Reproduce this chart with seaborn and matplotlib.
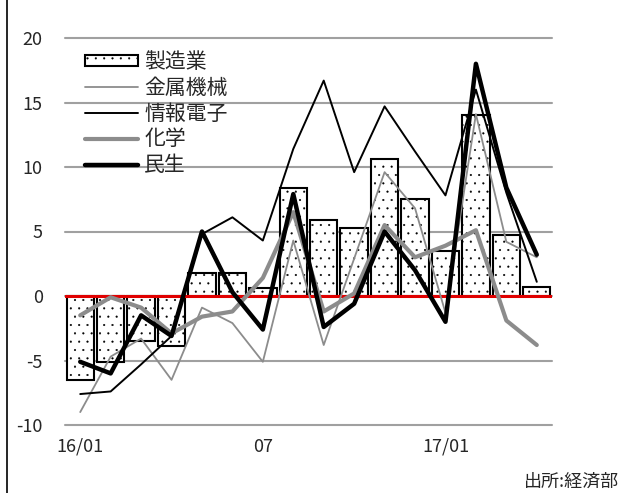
import numpy as np
import pandas as pd
import matplotlib
matplotlib.use("Agg")
import matplotlib.pyplot as plt
import seaborn as sns
from matplotlib.patches import Patch
from matplotlib.lines import Line2D

# 月 (16/01 - 17/04)
months = ["16/01", "02", "03", "04", "05", "06", "07", "08", "09", "10",
          "11", "12", "17/01", "02", "03", "04"]
tick_pos = [0, 6, 12]
tick_show = ["16/01", "07", "17/01"]

# 製造業 (棒)
seizo = [-6.5, -5.1, -3.5, -3.9, 1.8, 1.8, 0.6, 8.4, 5.9, 5.3,
         10.6, 7.5, 3.5, 14.0, 4.7, 0.7]
# 各業種 (線)
kinzoku = [-9.0, -4.7, -3.3, -6.5, -0.9, -2.1, -5.1, 4.3, -3.8, 2.9,
           9.6, 6.8, -1.3, 14.1, 4.2, 3.0]
joho = [-7.6, -7.4, -5.3, -3.1, 4.8, 6.1, 4.3, 11.4, 16.7, 9.6,
        14.7, 11.2, 7.8, 16.0, 8.0, 1.1]
kagaku = [-1.5, -0.1, -0.9, -2.9, -1.6, -1.2, 1.4, 6.5, -1.2, 0.2,
          5.5, 3.0, 3.9, 5.1, -1.9, -3.8]
minsei = [-5.1, -6.0, -1.5, -3.1, 5.0, 0.3, -2.6, 7.9, -2.4, -0.6,
          5.0, 2.0, -2.0, 18.0, 8.4, 3.2]

sns.set_style("white")
plt.rcParams["font.family"] = ["Noto Sans CJK JP", "DejaVu Sans"]
plt.rcParams["hatch.linewidth"] = 0.3

idx = np.arange(len(months))
df = pd.DataFrame({"idx": idx, "製造業": seizo, "金属機械": kinzoku,
                   "情報電子": joho, "化学": kagaku, "民生": minsei})

fig = plt.figure(figsize=(6.22, 4.93), dpi=100)
ax = fig.add_axes([65 / 622, 1 - 425 / 493, 487 / 622, 387 / 493])

# 目盛り線
for v in range(-10, 21, 5):
    ax.axhline(v, color="#a0a0a0", lw=1.5, zorder=0, clip_on=False)

sns.barplot(data=df, x="idx", y="製造業", color="white", width=0.9,
            edgecolor="black", linewidth=1.5, saturation=1, ax=ax, zorder=2)
for p in ax.patches:
    p.set_hatch("..")

ax.axhline(0, color="#e00000", lw=2.2, zorder=3)

line_styles = [
    ("金属機械", kinzoku, "#8c8c8c", 1.3),
    ("情報電子", joho, "black", 1.4),
    ("化学", kagaku, "#8c8c8c", 3.0),
    ("民生", minsei, "black", 3.2),
]
for name, vals, col, lw in line_styles:
    sns.lineplot(x=idx, y=vals, color=col, linewidth=lw, ax=ax, zorder=4)

ax.set_xlim(-0.5, len(months) - 0.5)
ax.set_ylim(-10, 20)
ax.set_yticks(range(-10, 21, 5))
ax.set_yticklabels([str(v) for v in range(-10, 21, 5)], fontsize=13)
ax.set_xticks(tick_pos)
ax.set_xticklabels(tick_show, fontsize=13)
ax.tick_params(axis="y", length=0, pad=16)
ax.tick_params(axis="x", length=0, pad=9)
ax.set_xlabel("")
ax.set_ylabel("")
for s in ax.spines.values():
    s.set_visible(False)

handles = [Patch(facecolor="white", edgecolor="black", hatch="..", lw=1.5)]
handles += [Line2D([], [], color=c, lw=w) for _, _, c, w in line_styles]
labels = ["製造業"] + [n for n, _, _, _ in line_styles]
fig.legend(handles, labels, loc="upper left", bbox_to_anchor=(85 / 622, 1 - 51 / 493),
           frameon=False, fontsize=15, handlelength=2.55, handleheight=0.4,
           handletextpad=0.3, labelspacing=0.18, borderpad=0, borderaxespad=0)

fig.add_artist(Line2D([7 / 622, 7 / 622], [0, 1], color="black", lw=1.2))
fig.text(619 / 622, 1 - 482 / 493, "出所:経済部", ha="right", va="center", fontsize=13)

fig.savefig("out.png", dpi=100)
